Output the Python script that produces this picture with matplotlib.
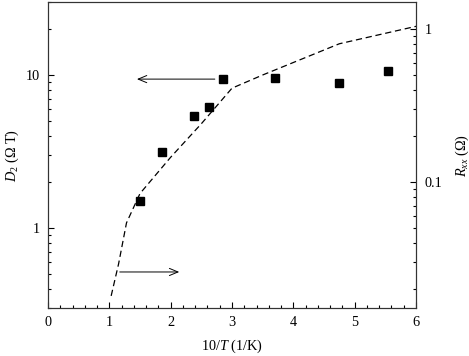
import numpy as np

import matplotlib  # isort: skip

matplotlib.use("Agg")

import matplotlib.pyplot as plt  # isort: skip
from matplotlib import ticker  # isort: skip

# D2 data points (left axis)
inv_t_pts = [1.50, 1.86, 2.38, 2.62, 2.85, 3.70, 4.75, 5.55]
d2_vals = [1.50, 3.14, 5.40, 6.21, 9.37, 9.55, 8.87, 10.6]

# Rxx dashed curve (right axis)
inv_t_line = [1.03, 1.15, 1.28, 1.50, 2.0, 2.5, 3.0, 3.5, 4.75, 6.0]
rxx_vals = [0.018, 0.029, 0.054, 0.084, 0.145, 0.24, 0.41, 0.50, 0.80, 1.04]

x_ticks = [0, 1, 2, 3, 4, 5, 6]
left_ticks = [1, 10]
right_ticks = [0.1, 1]

plt.rcParams["font.family"] = ["Liberation Serif", "DejaVu Serif"]
plt.rcParams["mathtext.fontset"] = "custom"
plt.rcParams["mathtext.rm"] = "Liberation Serif"
plt.rcParams["mathtext.it"] = "Liberation Serif:italic"
plt.rcParams["font.size"] = 10.3


def setup_axes(fig):
    ax = fig.add_axes([0.1023, 0.1348, 0.7847, 0.8596])
    ax2 = ax.twinx()
    for a in (ax, ax2):
        for sp in a.spines.values():
            sp.set_linewidth(0.8)
            sp.set_color("#333333")
    ax.set_xlim(0, 6)
    ax.set_yscale("log")
    ax.set_ylim(0.3, 30)
    ax2.set_yscale("log")
    ax2.set_ylim(0.015, 1.5)

    ax.set_xticks(x_ticks)
    ax.xaxis.set_minor_locator(ticker.MultipleLocator(0.2))
    ax.set_yticks(left_ticks)
    ax.yaxis.set_major_formatter(ticker.FormatStrFormatter("%g"))
    ax.yaxis.set_minor_formatter(ticker.NullFormatter())
    ax2.set_yticks(right_ticks)
    ax2.yaxis.set_major_formatter(ticker.FormatStrFormatter("%g"))
    ax2.yaxis.set_minor_formatter(ticker.NullFormatter())

    ax.tick_params(which="both", direction="in", top=False, right=False, width=0.8)
    ax.tick_params(which="major", length=4, pad=6)
    ax.tick_params(which="minor", length=2.5)
    ax2.tick_params(which="both", direction="in", width=0.8)
    ax2.tick_params(which="major", length=4, pad=6)
    ax2.tick_params(which="minor", length=2.5)
    return ax, ax2


fig = plt.figure(figsize=(4.69, 3.56), dpi=100)
ax, ax2 = setup_axes(fig)

ax2.plot(inv_t_line, rxx_vals, color="black", lw=0.9, dashes=(5, 3))
ax.plot(inv_t_pts, d2_vals, ls="none", marker="s", ms=6.2, color="black")

arrow = dict(arrowstyle="->,head_length=0.6,head_width=0.25", lw=0.7, color="black",
             shrinkA=0, shrinkB=0)
ax.annotate("", xy=(1.45, 9.4), xytext=(2.72, 9.4), arrowprops=arrow)
ax.annotate("", xy=(2.14, 0.516), xytext=(1.17, 0.516), arrowprops=arrow)

ax.set_xlabel("10/$T$ (1/K)", labelpad=6)
ax.set_ylabel("$D_2$ (Ω T)", labelpad=3)
ax2.set_ylabel("$R_{xx}$ (Ω)", labelpad=8)

fig.savefig("out.png", dpi=100)
